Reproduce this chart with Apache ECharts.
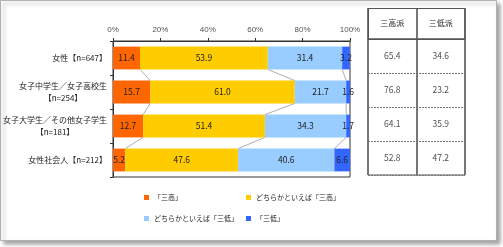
<!DOCTYPE html>
<html><head><meta charset="utf-8">
<script src="https://cdn.jsdelivr.net/npm/echarts@6/dist/echarts.min.js"></script>
<style>html,body{margin:0;padding:0;background:#fff}#c{width:503px;height:247px}</style>
</head><body><div id="c"></div>
<script>
var categories = ['女性【n=647】', '女子中学生／女子高校生\n【n=254】', '女子大学生／その他女子学生\n【n=181】', '女性社会人【n=212】'];
var seriesNames = ['「三高」', 'どちらかといえば「三高」', 'どちらかといえば「三低」', '「三低」'];
var sanko = [11.4, 15.7, 12.7, 5.2];
var yaSanko = [53.9, 61.0, 51.4, 47.6];
var yaSantei = [31.4, 21.7, 34.3, 40.6];
var santei = [3.2, 1.6, 1.7, 6.6];
var xTicks = [0, 20, 40, 60, 80, 100];
var tableHeaders = ['三高派', '三低派'];
var tableHigh = [65.4, 76.8, 64.1, 52.8];
var tableLow = [34.6, 23.2, 35.9, 47.2];

var colors = ['#FF6600', '#FFCC00', '#99CCFF', '#3366FF'];
var FONT = '"Noto Sans CJK JP", sans-serif';
var all = [sanko, yaSanko, yaSantei, santei];

// connectors between cumulative boundaries
var connData = [];
for (var k = 1; k <= 3; k++) {
  for (var i = 0; i < categories.length - 1; i++) {
    var a = 0, b = 0;
    for (var j = 0; j < k; j++) { a += all[j][i]; b += all[j][i + 1]; }
    connData.push([a, i, b, i + 1]);
  }
}

var chart = echarts.init(document.getElementById('c'));
var barSeries = all.map(function (d, idx) {
  return {
    name: seriesNames[idx], type: 'bar', stack: 't', data: d, barWidth: '67%',
    xAxisIndex: 0, yAxisIndex: 0,
    itemStyle: { color: colors[idx] },
    label: { show: true, position: 'inside', color: '#222', fontSize: 8.5, fontFamily: FONT,
      formatter: function (p) { return p.value.toFixed(1); } }
  };
});

var tableData = [];
tableHigh.forEach(function (v, i) { tableData.push([0, i, v]); });
tableLow.forEach(function (v, i) { tableData.push([1, i, v]); });

function legendAt(name, left, top) {
  return { data: [name], left: left, top: top, icon: 'rect', itemWidth: 5, itemHeight: 5,
    padding: 0, textStyle: { fontSize: 7, color: '#222', fontFamily: FONT } };
}

chart.setOption({
  animation: false,
  textStyle: { fontFamily: FONT },
  graphic: [{
    type: 'rect', z: -10, shape: { x: 0.5, y: 0.5, width: 496, height: 240 },
    style: { fill: '#fff', stroke: '#b0b0b0', lineWidth: 1, shadowColor: 'rgba(0,0,0,0.35)', shadowBlur: 4, shadowOffsetX: 3, shadowOffsetY: 3 }
  }, {
    type: 'rect', z: 5, shape: { x: 368.5, y: 8.5, width: 96.5, height: 30.5 },
    style: { fill: 'none', stroke: '#555', lineWidth: 1 }
  }],
  legend: [
    legendAt(seriesNames[0], 144, 194),
    legendAt(seriesNames[1], 246, 194),
    legendAt(seriesNames[2], 144, 215),
    legendAt(seriesNames[3], 246, 215)
  ],
  grid: [
    { left: 113, right: 153, top: 41, bottom: 70, show: true, borderColor: '#333', borderWidth: 1, backgroundColor: 'transparent' },
    { left: 368, right: 38, top: 39, bottom: 72, show: true, borderColor: '#555', borderWidth: 1, backgroundColor: 'transparent' }
  ],
  xAxis: [{
    gridIndex: 0, type: 'value', position: 'top', min: 0, max: 100, interval: 20,
    axisLine: { show: true, lineStyle: { color: '#333' } },
    axisTick: { show: true, length: 3, lineStyle: { color: '#333' } },
    axisLabel: { formatter: '{value}%', fontSize: 8, color: '#555', margin: 7, fontFamily: 'Liberation Sans' },
    splitLine: { show: false }
  }, {
    gridIndex: 1, type: 'category', position: 'top', data: tableHeaders,
    axisLine: { show: true, lineStyle: { color: '#555' } },
    axisTick: { show: true, length: 31, lineStyle: { color: '#777', width: 2 } },
    axisLabel: { fontSize: 8, color: '#222', margin: 12, fontFamily: FONT },
    splitLine: { show: true, lineStyle: { color: '#777', width: 2 } }
  }],
  yAxis: [{
    gridIndex: 0, type: 'category', data: categories, inverse: true,
    axisLine: { show: true, lineStyle: { color: '#333' } },
    axisTick: { show: true, length: 3, lineStyle: { color: '#333' } },
    axisLabel: {
      fontSize: 8, color: '#222', margin: 6, fontFamily: FONT, lineHeight: 12,
      formatter: function (v) {
        var parts = v.split('\n');
        if (parts.length === 1) return v;
        var st = parts[0].length > 11 ? 'b' : 'a';
        return '{' + st + '|' + parts[0] + '}\n{' + st + '|' + parts[1] + '}';
      },
      rich: {
        a: { width: 88, align: 'center', fontSize: 8, lineHeight: 12, color: '#222' },
        b: { width: 104, align: 'center', fontSize: 8, lineHeight: 12, color: '#222' }
      }
    }
  }, {
    gridIndex: 1, type: 'category', data: categories, inverse: true,
    axisLine: { show: false }, axisTick: { show: false }, axisLabel: { show: false },
    splitLine: { show: true, lineStyle: { color: '#777', type: [2, 1], width: 1 } }
  }],
  series: barSeries.concat([{
    type: 'custom', xAxisIndex: 0, yAxisIndex: 0, silent: true, z: 1,
    data: connData, encode: { x: [0, 2], y: [1, 3] },
    renderItem: function (params, api) {
      var half = api.size([0, 1])[1] * 0.335;
      var p1 = api.coord([api.value(0), api.value(1)]);
      var p2 = api.coord([api.value(2), api.value(3)]);
      return { type: 'line', shape: { x1: p1[0], y1: p1[1] + half, x2: p2[0], y2: p2[1] - half },
        style: { stroke: '#999', lineWidth: 0.8 } };
    }
  }, {
    type: 'scatter', xAxisIndex: 1, yAxisIndex: 1, data: tableData, symbolSize: 1,
    itemStyle: { color: 'rgba(0,0,0,0)' }, silent: true,
    label: { show: true, position: 'inside', color: '#222', fontSize: 8.5, fontFamily: FONT,
      formatter: function (p) { return p.value[2].toFixed(1); } }
  }])
});
</script></body></html>
